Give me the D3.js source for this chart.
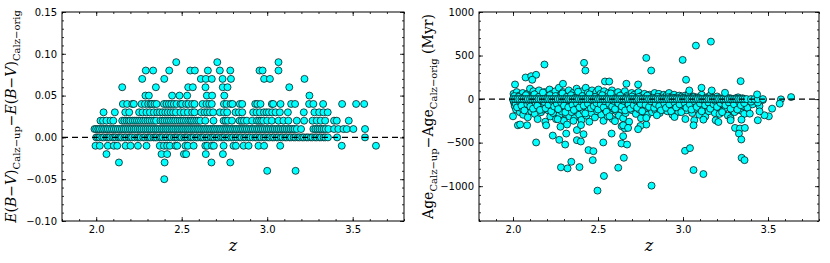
<!DOCTYPE html>
<html>
<head>
<meta charset="utf-8">
<script src="https://cdn.jsdelivr.net/npm/d3@7"></script>
<style>
  body { margin: 0; background: #fff; }
  svg { display: block; }
  .tick text { font-family: "DejaVu Sans", sans-serif; font-size: 10px; fill: #000; }
  .lab { font-family: "DejaVu Serif", serif; fill: #000; }
</style>
</head>
<body>
<script>
var width = 830,
    height = 263;

// ---- left panel: E(B-V) differences, one array of redshifts per level ----
var ebv_p09 = [2.468, 2.708, 3.066];
var ebv_p08 = [2.29, 2.333, 2.427, 2.55, 2.577, 2.653, 2.723, 2.784, 2.955, 2.973, 3.066];
var ebv_p07 = [2.269, 2.398, 2.612, 2.641, 2.676, 2.739, 2.788, 2.982, 3.016, 3.218];
var ebv_p06 = [2.152, 2.349, 2.538, 2.565, 2.639, 2.74, 2.768, 3.129];
var ebv_p05 = [2.288, 2.308, 2.444, 2.487, 2.532, 2.647, 2.678, 2.749, 3.247];
var ebv_p04 = [2.156, 2.181, 2.211, 2.22, 2.265, 2.285, 2.304, 2.318, 2.327, 2.341, 2.353, 2.396, 2.411,
  2.425, 2.439, 2.454, 2.47, 2.493, 2.503, 2.526, 2.54, 2.561, 2.575, 2.622, 2.645, 2.661, 2.676, 2.747,
  2.762, 2.786, 2.797, 2.84, 2.854, 2.93, 2.942, 2.961, 3.027, 3.035, 3.078, 3.14, 3.163, 3.245, 3.27,
  3.327, 3.438, 3.52, 3.567];
var ebv_p03 = [2.043, 2.109, 2.17, 2.193, 2.251, 2.271, 2.294, 2.314, 2.337, 2.357, 2.372, 2.388, 2.404,
  2.419, 2.435, 2.45, 2.466, 2.493, 2.513, 2.536, 2.561, 2.575, 2.614, 2.634, 2.649, 2.665, 2.684, 2.723,
  2.747, 2.766, 2.815, 2.834, 2.854, 2.918, 2.938, 2.957, 2.981, 2.996, 3.01, 3.029, 3.049, 3.074, 3.121,
  3.214, 3.276, 3.304, 3.329, 3.354];
var ebv_p02 = [2.025, 2.04, 2.06, 2.084, 2.1, 2.152, 2.165, 2.178, 2.19, 2.2, 2.214, 2.226, 2.238, 2.25,
  2.262, 2.275, 2.287, 2.3, 2.312, 2.325, 2.338, 2.35, 2.376, 2.388, 2.4, 2.413, 2.425, 2.437, 2.45, 2.462,
  2.475, 2.488, 2.5, 2.512, 2.525, 2.538, 2.55, 2.56, 2.572, 2.585, 2.597, 2.609, 2.638, 2.686, 2.745,
  2.757, 2.77, 2.794, 2.838, 2.851, 2.864, 2.881, 2.912, 2.94, 2.952, 2.965, 2.977, 3.0, 3.027, 3.066,
  3.095, 3.124, 3.173, 3.216, 3.265, 3.29, 3.313, 3.339, 3.391, 3.407, 3.477];
var ebv_p01 = [1.99, 2.0, 2.012, 2.022, 2.035, 2.046, 2.058, 2.068, 2.08, 2.092, 2.103, 2.115, 2.126, 2.138,
  2.15, 2.161, 2.172, 2.184, 2.196, 2.207, 2.219, 2.23, 2.242, 2.254, 2.265, 2.277, 2.289, 2.3, 2.312,
  2.323, 2.335, 2.347, 2.358, 2.37, 2.382, 2.393, 2.405, 2.416, 2.428, 2.44, 2.451, 2.463, 2.475, 2.486,
  2.498, 2.509, 2.521, 2.533, 2.544, 2.556, 2.568, 2.579, 2.591, 2.602, 2.614, 2.626, 2.637, 2.649, 2.661,
  2.672, 2.684, 2.695, 2.707, 2.719, 2.73, 2.742, 2.754, 2.765, 2.777, 2.788, 2.8, 2.812, 2.823, 2.835,
  2.847, 2.858, 2.87, 2.881, 2.893, 2.905, 2.916, 2.928, 2.94, 2.951, 2.963, 2.974, 2.986, 2.998, 3.009,
  3.021, 3.033, 3.044, 3.056, 3.067, 3.079, 3.091, 3.102, 3.114, 3.126, 3.137, 3.149, 3.16, 3.173, 3.198,
  3.27, 3.282, 3.294, 3.306, 3.318, 3.33, 3.342, 3.358, 3.391, 3.416, 3.446, 3.465, 3.504, 3.572];
var ebv_000 = [2.0, 2.01, 2.02, 2.035, 2.045, 2.06, 2.07, 2.08, 2.095, 2.105, 2.115, 2.13, 2.14, 2.15,
  2.165, 2.175, 2.19, 2.2, 2.21, 2.225, 2.24, 2.25, 2.26, 2.275, 2.285, 2.3, 2.31, 2.32, 2.335, 2.345,
  2.355, 2.37, 2.38, 2.39, 2.405, 2.415, 2.43, 2.44, 2.455, 2.465, 2.475, 2.49, 2.5, 2.515, 2.525, 2.535,
  2.55, 2.56, 2.57, 2.585, 2.595, 2.61, 2.62, 2.63, 2.645, 2.655, 2.67, 2.68, 2.69, 2.705, 2.715, 2.73,
  2.74, 2.75, 2.765, 2.775, 2.79, 2.8, 2.815, 2.825, 2.84, 2.85, 2.865, 2.875, 2.89, 2.9, 2.915, 2.93,
  2.94, 2.955, 2.965, 2.98, 2.99, 3.005, 3.015, 3.03, 3.04, 3.055, 3.065, 3.08, 3.09, 3.105, 3.115, 3.13,
  3.14, 3.155, 3.165, 3.18, 3.19, 3.205, 3.215, 3.23, 3.24, 3.255, 3.265, 3.28, 3.29, 3.305, 3.315, 3.33,
  3.34, 3.355, 3.409, 3.572];
var ebv_m01 = [1.996, 2.021, 2.068, 2.103, 2.123, 2.172, 2.201, 2.244, 2.294, 2.372, 2.396, 2.415, 2.431,
  2.464, 2.474, 2.522, 2.536, 2.57, 2.638, 2.649, 2.677, 2.688, 2.745, 2.803, 2.817, 2.862, 2.891, 2.949,
  2.982, 3.076, 3.436, 3.636];
var ebv_m02 = [2.06, 2.382, 2.415, 2.513, 2.526, 2.641, 2.741];
var ebv_m03 = [2.133, 2.4, 2.674, 2.784];
var ebv_m04 = [3.0, 3.166];
var ebv_m05 = [2.398];

var ebvLevels = [0.09, 0.08, 0.07, 0.06, 0.05, 0.04, 0.03, 0.02, 0.01, 0.0, -0.01, -0.02, -0.03, -0.04, -0.05];
var ebvRows = [ebv_p09, ebv_p08, ebv_p07, ebv_p06, ebv_p05, ebv_p04, ebv_p03, ebv_p02, ebv_p01,
  ebv_000, ebv_m01, ebv_m02, ebv_m03, ebv_m04, ebv_m05];

// ---- right panel: age differences (Myr) ----
var ageZeroZ = [2.0, 2.012, 2.025, 2.037, 2.05, 2.062, 2.075, 2.087, 2.1, 2.112, 2.125, 2.137, 2.15, 2.162,
  2.175, 2.187, 2.2, 2.212, 2.225, 2.237, 2.25, 2.262, 2.275, 2.287, 2.3, 2.312, 2.325, 2.337, 2.35, 2.362,
  2.375, 2.387, 2.4, 2.412, 2.425, 2.437, 2.45, 2.462, 2.475, 2.487, 2.5, 2.512, 2.525, 2.537, 2.55, 2.562,
  2.575, 2.587, 2.6, 2.612, 2.625, 2.637, 2.65, 2.662, 2.675, 2.687, 2.7, 2.712, 2.725, 2.737, 2.75, 2.762,
  2.775, 2.787, 2.8, 2.812, 2.825, 2.837, 2.85, 2.862, 2.875, 2.887, 2.9, 2.912, 2.925, 2.937, 2.95, 2.962,
  2.975, 2.987, 3.0, 3.012, 3.025, 3.037, 3.05, 3.062, 3.075, 3.087, 3.1, 3.112, 3.125, 3.137, 3.15, 3.162,
  3.175, 3.187, 3.2, 3.212, 3.225, 3.237, 3.25, 3.262, 3.275, 3.287, 3.3, 3.312, 3.325, 3.337, 3.35, 3.362,
  3.375, 3.4, 3.42, 3.44, 3.47];

var ageCore = [
  [2.003, 60], [2.006, -40], [2.01, -80], [2.014, 20], [2.018, -120], [2.022, 80], [2.027, -20], [2.031, -60],
  [2.036, 40], [2.04, -150], [2.044, -100], [2.048, 10], [2.053, -30], [2.057, 70], [2.06, -180], [2.065, -70],
  [2.07, 30], [2.074, -110], [2.078, -40], [2.083, 60], [2.087, -210], [2.091, -10], [2.095, -90], [2.1, 120],
  [2.104, -50], [2.108, -140], [2.112, 40], [2.116, -70], [2.12, 90], [2.124, -20], [2.128, -170], [2.132, 10],
  [2.136, -100], [2.14, 60], [2.145, -230], [2.149, -50], [2.153, 100], [2.157, -80], [2.161, 20], [2.165, -150],
  [2.169, -30], [2.173, 50], [2.178, -120], [2.182, -60], [2.186, 80], [2.19, -260], [2.194, -10], [2.198, -90],
  [2.203, 40], [2.207, -130], [2.211, -50], [2.215, 110], [2.219, -200], [2.223, -20], [2.228, 60], [2.232, -90],
  [2.236, -160], [2.24, 20], [2.244, -60], [2.249, 90], [2.253, -230], [2.257, -110], [2.261, 30], [2.265, -40],
  [2.27, 130], [2.274, -180], [2.278, -70], [2.282, 50], [2.286, -140], [2.29, -20], [2.295, 80], [2.299, -250],
  [2.303, -90], [2.307, 10], [2.311, -170], [2.315, 60], [2.32, -40], [2.324, -120], [2.328, 100], [2.332, -200],
  [2.336, -60], [2.34, 30], [2.345, -150], [2.349, -10], [2.353, 70], [2.357, -100], [2.361, -220], [2.365, 40],
  [2.37, -70], [2.374, 120], [2.378, -130], [2.382, -30], [2.386, 60], [2.39, -180], [2.395, -80], [2.399, 20],
  [2.403, -240], [2.407, 90], [2.411, -50], [2.415, -140], [2.42, 30], [2.424, -90], [2.428, 130], [2.432, -190],
  [2.436, -20], [2.44, 70], [2.444, -120], [2.449, -260], [2.453, 40], [2.457, -60], [2.461, -160], [2.465, 100],
  [2.47, -30], [2.474, -100], [2.478, 50], [2.482, -210], [2.486, -70], [2.49, 80], [2.495, -140], [2.499, -10],
  [2.503, 110], [2.507, -110], [2.511, -40], [2.515, 60], [2.52, -180], [2.524, -80], [2.528, 20], [2.532, -250],
  [2.536, 90], [2.54, -60], [2.545, -130], [2.549, 40], [2.553, -20], [2.557, -200], [2.561, 70], [2.565, -90],
  [2.57, -150], [2.574, 10], [2.578, -50], [2.582, 100], [2.586, -230], [2.59, -110], [2.595, 30], [2.599, -70],
  [2.603, 60], [2.608, -140], [2.613, -30], [2.618, 80], [2.623, -190], [2.628, -80], [2.633, 20], [2.638, -120],
  [2.643, 50], [2.648, -220], [2.653, -50], [2.658, 90], [2.663, -160], [2.668, -20], [2.673, 40], [2.678, -100],
  [2.683, -260], [2.688, 10], [2.693, -60], [2.698, 70], [2.703, -130], [2.708, -30], [2.713, 50], [2.718, -90],
  [2.723, -170], [2.728, 20], [2.733, -50], [2.738, 80], [2.743, -120], [2.748, -10], [2.753, -220], [2.758, 40],
  [2.763, -70], [2.768, -150], [2.773, 60], [2.778, -30], [2.783, -100], [2.788, 30], [2.793, -180], [2.798, -60],
  [2.803, 50], [2.808, -110], [2.813, -20], [2.818, -150], [2.823, 40], [2.828, -70], [2.833, 70], [2.838, -130],
  [2.843, -40], [2.848, 20], [2.853, -90], [2.858, 60], [2.863, -160], [2.868, -10], [2.873, 30], [2.878, -60],
  [2.883, -120], [2.888, 50], [2.893, -30], [2.898, -90], [2.903, 40], [2.908, -140], [2.913, -50], [2.918, 70],
  [2.923, -100], [2.928, -20], [2.933, 30], [2.938, -180], [2.943, -70], [2.948, 50], [2.953, -120], [2.958, -30],
  [2.963, 20], [2.968, -80], [2.973, -150], [2.978, 40], [2.983, -50], [2.988, -110], [2.993, 30], [2.998, -20],
  [3.005, -70], [3.012, 40], [3.019, -130], [3.026, -30], [3.033, 60], [3.04, -90], [3.047, -20], [3.054, -160],
  [3.061, 30], [3.068, -60], [3.075, -110], [3.082, 20], [3.089, -40], [3.096, -180], [3.103, -80], [3.11, 50],
  [3.117, -120], [3.124, -30], [3.131, -200], [3.138, 20], [3.145, -70], [3.152, -140], [3.159, 40], [3.166, -50],
  [3.173, -100], [3.18, 10], [3.187, -160], [3.194, -40], [3.201, 30], [3.208, -90], [3.215, -170], [3.222, -20],
  [3.229, -60], [3.236, -130], [3.243, 20], [3.25, -100], [3.257, -40], [3.264, -190], [3.271, -70], [3.278, 10],
  [3.285, -120], [3.292, -50], [3.303, -150], [3.31, -30], [3.317, -90], [3.324, 20], [3.331, -60], [3.338, -130],
  [3.345, -20], [3.352, -80], [3.36, -170], [3.37, -40], [3.38, -100], [3.39, -10], [3.41, -60], [3.43, -20],
  [3.45, -80], [3.47, -10]
];

// second, tighter layer of the core band (mostly between +80 and -150)
var ageCore2 = [
  [2.002, -15], [2.008, 35], [2.016, -55], [2.024, -95], [2.033, 25], [2.042, -35], [2.05, -75], [2.058, 15],
  [2.067, -130], [2.076, 45], [2.085, -60], [2.093, -25], [2.102, -85], [2.11, 15], [2.118, -110], [2.126, 55],
  [2.134, -45], [2.143, -75], [2.151, 25], [2.159, -125], [2.167, -15], [2.176, 75], [2.184, -35], [2.192, -105],
  [2.2, 15], [2.209, -65], [2.217, 45], [2.225, -140], [2.233, -25], [2.242, -85], [2.25, 35], [2.258, -55],
  [2.266, -115], [2.275, 15], [2.283, -35], [2.291, 65], [2.3, -75], [2.308, -150], [2.316, 25], [2.325, -95],
  [2.333, -15], [2.341, 45], [2.35, -65], [2.358, -125], [2.366, 15], [2.375, -45], [2.383, 85], [2.391, -95],
  [2.4, -25], [2.408, 35], [2.416, -75], [2.425, -165], [2.433, 15], [2.441, -55], [2.45, 55], [2.458, -105],
  [2.466, -15], [2.475, -80], [2.483, 25], [2.491, -45], [2.5, -120], [2.508, 15], [2.516, -60], [2.525, 45],
  [2.533, -95], [2.541, -25], [2.55, -145], [2.558, 25], [2.566, -55], [2.575, 65], [2.583, -85], [2.591, -20],
  [2.6, -115], [2.61, 15], [2.62, -50], [2.63, 40], [2.64, -85], [2.65, -20], [2.66, -130], [2.67, 20],
  [2.68, -60], [2.69, -110], [2.7, 30], [2.71, -70], [2.72, -15], [2.73, -100], [2.74, 25], [2.75, -55],
  [2.76, -140], [2.77, 10], [2.78, -65], [2.79, 40], [2.8, -90], [2.81, -25], [2.82, 15], [2.83, -100],
  [2.84, -55], [2.85, 25], [2.86, -80], [2.87, -130], [2.88, 10], [2.89, -50], [2.9, -100], [2.91, 20],
  [2.92, -60], [2.93, -140], [2.94, 15], [2.95, -40], [2.96, -95], [2.97, 10], [2.98, -60], [2.99, -150],
  [3.0, 15], [3.01, -45], [3.02, -100], [3.03, 10], [3.04, -60], [3.05, -120], [3.06, 20], [3.07, -30],
  [3.08, -90], [3.09, 15], [3.1, -50], [3.11, -140], [3.12, -15], [3.13, -70], [3.14, 10], [3.15, -40],
  [3.16, -110], [3.17, 15], [3.18, -60], [3.19, -20], [3.2, -90], [3.21, 10], [3.22, -45], [3.23, -150],
  [3.24, -20], [3.25, -70], [3.26, 15], [3.27, -40], [3.28, -110], [3.29, -15], [3.3, -60], [3.31, 10],
  [3.32, -120], [3.33, -30], [3.34, -70], [3.35, 10], [3.36, -45], [3.4, -30], [3.44, -40]
];

var ageOutliers = [
  [2.185, 397], [2.418, 416], [2.426, 328], [2.074, 248], [2.107, 263], [2.136, 279], [2.113, 222], [2.012, 168],
  [2.541, 202], [2.566, 202], [2.294, 176], [2.784, 473], [2.998, 450], [2.813, 328], [3.018, 222], [3.076, 614],
  [3.164, 660], [3.339, 206], [2.667, 176], [2.736, 168], [3.109, 130], [3.169, 99], [3.037, 99], [3.247, 73],
  [3.436, 54], [3.636, 23],
  [2.0, -198], [2.029, -301], [2.042, -292], [2.083, -301], [2.195, -301], [2.136, -498], [2.234, -419],
  [2.263, -231], [2.279, -318], [2.318, -292], [2.356, -250], [2.376, -356], [2.4, -299],
  [2.272, -468], [2.307, -522], [2.313, -396], [2.376, -472], [2.399, -487], [2.415, -403], [2.444, -586],
  [2.473, -598], [2.469, -701], [2.343, -720], [2.282, -784], [2.321, -796], [2.391, -781], [2.535, -883],
  [2.531, -498], [2.58, -396], [2.497, -1051], [2.568, -197], [2.6, -254], [2.639, -311], [2.658, -337],
  [2.648, -426], [2.638, -510], [2.671, -522], [2.652, -674], [2.619, -788], [3.012, -594], [3.041, -563],
  [3.062, -815], [3.12, -861], [2.815, -994], [2.784, -293], [2.749, -309], [2.736, -346], [2.648, -301],
  [2.677, -331], [3.014, -229], [3.066, -243], [3.062, -301], [3.12, -236], [3.192, -243], [2.846, -186],
  [2.95, -206], [2.784, -217],
  [3.576, -3], [3.569, -53], [3.524, -110], [3.505, -198], [3.479, -186], [3.45, -141], [3.44, -243],
  [3.393, -167], [3.344, -236], [3.28, -220], [3.28, -243], [3.208, -263], [3.306, -331], [3.335, -338],
  [3.364, -331], [3.329, -396], [3.343, -464], [3.345, -674], [3.362, -701]
];

var zTicks = [2.0, 2.5, 3.0, 3.5];
var ebvTicks = [-0.10, -0.05, 0.00, 0.05, 0.10, 0.15];
var ageTicks = [-1000, -500, 0, 500, 1000];

var svg = d3.select("body").append("svg")
    .attr("width", width)
    .attr("height", height)
    .attr("viewBox", [0, 0, width, height]);

svg.append("rect").attr("width", width).attr("height", height).attr("fill", "#fff");

function minorRange(a, b, step) {
  // tick positions for the minor ticks
  return d3.range(Math.round(a / step), Math.round(b / step) + 1).map(i => +(i * step).toFixed(6));
}

function drawPanel(opt) {
  const x = d3.scaleLinear().domain([1.8, 3.8]).range([opt.left, opt.right]);
  const y = d3.scaleLinear().domain(opt.ydom).range([opt.bottom, opt.top]);
  const g = svg.append("g");

  // points
  g.append("g")
    .selectAll("circle")
    .data(opt.points)
    .join("circle")
      .attr("cx", d => x(d[0]))
      .attr("cy", d => y(d[1]))
      .attr("r", 3.5)
      .attr("fill", "#00ffff")
      .attr("stroke", "#000")
      .attr("stroke-width", 0.7);

  // zero line
  g.append("line")
    .attr("x1", opt.left).attr("x2", opt.right)
    .attr("y1", y(0)).attr("y2", y(0))
    .attr("stroke", "#000")
    .attr("stroke-width", 1.2)
    .attr("stroke-dasharray", "6,4");

  const xMinor = minorRange(1.8, 3.8, 0.1);
  const yMinor = minorRange(opt.ydom[0], opt.ydom[1], opt.yminor);

  function axis(gen, tr, vals, size, fmt) {
    const a = g.append("g").attr("transform", tr)
      .call(gen.tickValues(vals).tickSize(size).tickPadding(5).tickFormat(fmt));
    a.select(".domain").remove();
    a.selectAll("line").attr("stroke", "#000").attr("stroke-width", 0.8);
    return a;
  }
  const none = () => "";
  // bottom / top
  axis(d3.axisBottom(x), `translate(0,${opt.bottom})`, zTicks, -4, d3.format(".1f"));
  axis(d3.axisBottom(x), `translate(0,${opt.bottom})`, xMinor, -2, none);
  axis(d3.axisTop(x), `translate(0,${opt.top})`, zTicks, -4, none);
  axis(d3.axisTop(x), `translate(0,${opt.top})`, xMinor, -2, none);
  // left / right
  axis(d3.axisLeft(y), `translate(${opt.left},0)`, opt.yticks, -4, opt.yfmt);
  axis(d3.axisLeft(y), `translate(${opt.left},0)`, yMinor, -2, none);
  axis(d3.axisRight(y), `translate(${opt.right},0)`, opt.yticks, -4, none);
  axis(d3.axisRight(y), `translate(${opt.right},0)`, yMinor, -2, none);

  g.selectAll(".tick text").attr("font-family", "DejaVu Sans").attr("font-size", 10);

  // frame
  g.append("rect")
    .attr("x", opt.left).attr("y", opt.top)
    .attr("width", opt.right - opt.left).attr("height", opt.bottom - opt.top)
    .attr("fill", "none").attr("stroke", "#000").attr("stroke-width", 1);

  // x label
  g.append("text").attr("class", "lab")
    .attr("x", (opt.left + opt.right) / 2).attr("y", 251)
    .attr("text-anchor", "middle")
    .attr("font-size", 16).attr("font-style", "italic")
    .text("z");

  // y label (math text)
  const t = g.append("text").attr("class", "lab")
    .attr("transform", `translate(${opt.ylabx},${(opt.top + opt.bottom) / 2}) rotate(-90)`)
    .attr("text-anchor", "middle")
    .attr("font-size", 14);
  opt.ylabel.forEach(p => {
    const s = t.append("tspan").text(p.t);
    if (p.i) s.attr("font-style", "italic");
    if (p.sub) s.attr("font-size", 10).attr("baseline-shift", "-4");
  });
}

var ebvPoints = [];
ebvRows.forEach((row, k) => row.forEach(z => ebvPoints.push([z, ebvLevels[k]])));

var agePoints = ageCore.concat(ageCore2, ageZeroZ.map(z => [z, 0]), ageOutliers);

drawPanel({
  left: 62, right: 404, top: 12, bottom: 221,
  ydom: [-0.10, 0.15], yticks: ebvTicks, yminor: 0.01, yfmt: d3.format(".2f"),
  points: ebvPoints, ylabx: 16,
  ylabel: [
    {t: "E", i: 1}, {t: "("}, {t: "B", i: 1}, {t: "−"}, {t: "V", i: 1}, {t: ")"},
    {t: "Calz−up", sub: 1}, {t: "−"},
    {t: "E", i: 1}, {t: "("}, {t: "B", i: 1}, {t: "−"}, {t: "V", i: 1}, {t: ")"},
    {t: "Calz−orig", sub: 1}
  ]
});

drawPanel({
  left: 479, right: 819, top: 12, bottom: 221,
  ydom: [-1400, 1000], yticks: ageTicks, yminor: 100, yfmt: d3.format("d"),
  points: agePoints, ylabx: 433,
  ylabel: [
    {t: "Age"}, {t: "Calz−up", sub: 1}, {t: "−"},
    {t: "Age"}, {t: "Calz−orig", sub: 1}, {t: " (Myr)"}
  ]
});
</script>
</body>
</html>
